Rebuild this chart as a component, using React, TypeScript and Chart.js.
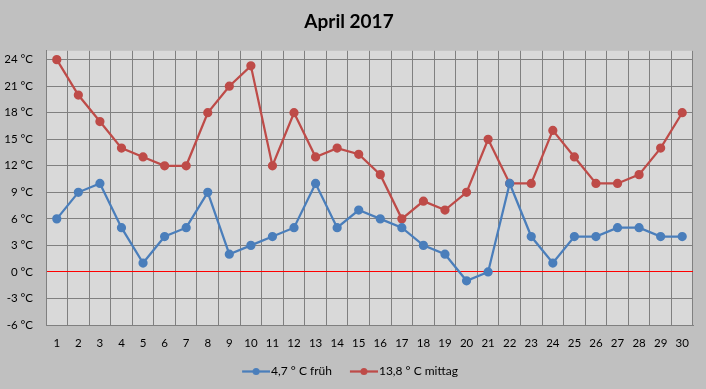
import React, { useEffect, useRef } from "react";
import { Chart, registerables } from "chart.js";

Chart.register(...registerables);

const days: string[] = Array.from({ length: 30 }, (_, i) => String(i + 1));
const fruh: number[] = [6, 9, 10, 5, 1, 4, 5, 9, 2, 3, 4, 5, 10, 5, 7, 6, 5, 3, 2, -1, 0, 10, 4, 1, 4, 4, 5, 5, 4, 4];
const mittag: number[] = [24, 20, 17, 14, 13, 12, 12, 18, 21, 23.3, 12, 18, 13, 14, 13.3, 11, 6, 8, 7, 9, 15, 10, 10, 16, 13, 10, 10, 11, 14, 18];
const yTicks: number[] = [-6, -3, 0, 3, 6, 9, 12, 15, 18, 21, 24];
const seriesLabels: string[] = ["4,7 ° C früh", "13,8 ° C mittag"];
const titleText = "April 2017";

const BLUE = "#4A7EBB";
const RED = "#BE4B48";

function legendImage(color: string): HTMLCanvasElement {
  const c = document.createElement("canvas");
  c.width = 35;
  c.height = 9;
  const g = c.getContext("2d")!;
  g.strokeStyle = color;
  g.lineWidth = 2.25;
  g.beginPath();
  g.moveTo(7, 4.5);
  g.lineTo(35, 4.5);
  g.stroke();
  g.fillStyle = color;
  g.beginPath();
  g.arc(21, 4.5, 3.5, 0, Math.PI * 2);
  g.fill();
  return c;
}

export default function App() {
  const ref = useRef<HTMLCanvasElement | null>(null);
  useEffect(() => {
    document.body.style.margin = "0";
    const canvas = ref.current!;
    const imgs = [legendImage(BLUE), legendImage(RED)];
    const bgPlugin = {
      id: "bg",
      beforeDraw(chart: any) {
        const { ctx, chartArea } = chart;
        ctx.save();
        ctx.fillStyle = "#C0C0C0";
        ctx.fillRect(0, 0, chart.width, chart.height);
        ctx.fillStyle = "#D9D9D9";
        ctx.fillRect(chartArea.left, chartArea.top, chartArea.right - chartArea.left, chartArea.bottom - chartArea.top);
        ctx.restore();
      },
    };
    const chart = new Chart(canvas, {
      type: "line",
      data: {
        labels: days,
        datasets: [
          {
            label: seriesLabels[0],
            data: fruh,
            borderColor: BLUE,
            backgroundColor: BLUE,
            pointBackgroundColor: BLUE,
            pointBorderColor: BLUE,
            borderWidth: 2.25,
            pointRadius: 3.5,
            tension: 0,
          },
          {
            label: seriesLabels[1],
            data: mittag,
            borderColor: RED,
            backgroundColor: RED,
            pointBackgroundColor: RED,
            pointBorderColor: RED,
            borderWidth: 2.25,
            pointRadius: 3.5,
            tension: 0,
          },
        ],
      },
      options: {
        animation: false,
        responsive: false,
        devicePixelRatio: 1,
        events: [],
        layout: { padding: { left: 5, right: 13, top: 0, bottom: 1.5 } },
        font: { family: "Lato" },
        plugins: {
          tooltip: { enabled: false },
          title: {
            display: true,
            text: titleText,
            color: "#000",
            font: { family: "Lato", size: 19, weight: "bold" },
            padding: { top: 10, bottom: 18 },
          },
          legend: {
            position: "bottom",
            labels: {
              usePointStyle: true,
              pointStyleWidth: 25,
              padding: 16,
              color: "#000",
              font: { family: "Lato", size: 12 },
              generateLabels(chart: any) {
                const items = Chart.defaults.plugins.legend.labels.generateLabels(chart);
                return items.map((it: any, i: number) => ({ ...it, pointStyle: imgs[i] }));
              },
            },
          },
        },
        scales: {
          x: {
            offset: true,
            grid: { offset: true, color: "#808080", lineWidth: 1, drawTicks: false },
            border: { display: true, color: "#808080" },
            ticks: { color: "#000", padding: 11, font: { family: "Lato", size: 11.5 }, maxRotation: 0, autoSkip: false },
            afterFit(axis: any) {
              axis.height = 24.5;
            },
          },
          y: {
            min: -6,
            max: 25,
            afterBuildTicks(axis: any) {
              axis.ticks = yTicks.map((v) => ({ value: v }));
            },
            afterFit(axis: any) {
              axis.width = 41;
            },
            grid: {
              color: (ctx: any) => (ctx.tick && ctx.tick.value === 0 ? "#FF0000" : "#808080"),
              lineWidth: 1,
              drawTicks: false,
            },
            border: { display: true, color: "#808080" },
            ticks: {
              color: "#000",
              padding: 13,
              font: { family: "Lato", size: 11.5 },
              callback: (v: any) => `${v} °C`,
            },
          },
        },
      } as any,
      plugins: [bgPlugin],
    });
    return () => chart.destroy();
  }, []);
  return (
    <div style={{ width: 706, height: 389 }}>
      <canvas ref={ref} width={706} height={389} style={{ display: "block" }} />
    </div>
  );
}
